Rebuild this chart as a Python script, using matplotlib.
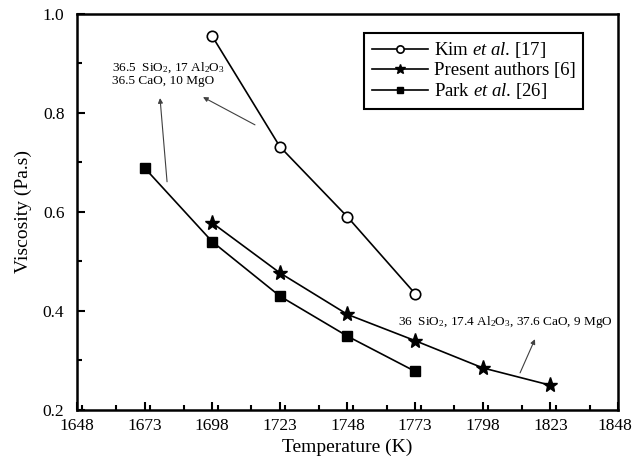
import matplotlib.pyplot as plt
import matplotlib.transforms as mtransforms
from matplotlib.ticker import MultipleLocator

plt.rcParams['font.family'] = 'Liberation Serif'
plt.rcParams['mathtext.fontset'] = 'custom'
plt.rcParams['mathtext.rm'] = 'Liberation Serif'
plt.rcParams['mathtext.it'] = 'Liberation Serif:italic'

# data
kim_T = [1698, 1723, 1748, 1773]
kim_visc = [0.955, 0.732, 0.59, 0.435]

present_T = [1698, 1723, 1748, 1773, 1798, 1823]
present_visc = [0.578, 0.477, 0.393, 0.34, 0.285, 0.25]

park_T = [1673, 1698, 1723, 1748, 1773]
park_visc = [0.689, 0.54, 0.43, 0.349, 0.278]

x_ticks = [1648, 1673, 1698, 1723, 1748, 1773, 1798, 1823, 1848]
y_ticks = [0.2, 0.4, 0.6, 0.8, 1.0]

fig = plt.figure(figsize=(6.33, 4.70), dpi=100)
ax = fig.add_axes([0.1216, 0.1277, 0.8547, 0.8426])

ax.plot(kim_T, kim_visc, '-o', color='black', lw=1.2, ms=7.5, mfc='white',
        mec='black', mew=1.2, label='Kim $et$ $al$. [17]')
ax.plot(present_T, present_visc, '-*', color='black', lw=1.2, ms=11,
        label='Present authors [6]')
ax.plot(park_T, park_visc, '-s', color='black', lw=1.2, ms=7,
        label='Park $et$ $al$. [26]')

ax.set_xlim(1648, 1848)
ax.set_ylim(0.2, 1.0)
ax.set_xticks(x_ticks)
ax.set_yticks(y_ticks)
ax.xaxis.set_minor_locator(MultipleLocator(12.5))
ax.yaxis.set_minor_locator(MultipleLocator(0.1))
ax.tick_params(which='both', direction='in', top=False, right=False,
               labelsize=12.5, width=1.5)
ax.tick_params(which='major', length=6)
ax.tick_params(which='minor', length=3.5)
ax.tick_params(axis='x', pad=6)
ax.tick_params(axis='y', pad=9)
for s in ax.spines.values():
    s.set_linewidth(1.8)

# nudge the last x label so it stays inside the figure
last = ax.get_xticklabels()[-1]
last.set_transform(last.get_transform() +
                   mtransforms.ScaledTranslation(-3 / 100, 0, fig.dpi_scale_trans))

ax.set_xlabel('Temperature (K)', fontsize=14, labelpad=3)
ax.set_ylabel('Viscosity (Pa.s)', fontsize=14, labelpad=8)

leg = ax.legend(loc='upper right', bbox_to_anchor=(0.935, 0.952), fontsize=13.5,
                fancybox=False, edgecolor='black', framealpha=1,
                handlelength=3.0, handletextpad=0.3, borderpad=0.4,
                labelspacing=0.1, borderaxespad=0, markerscale=0.7)
leg.get_frame().set_linewidth(1.5)

arrow = dict(arrowstyle='-|>', color='0.25', lw=0.8, mutation_scale=7,
             shrinkA=0, shrinkB=0)
ax.text(1661, 0.907, '36.5  SiO$_2$, 17 Al$_2$O$_3$\n36.5 CaO, 10 MgO',
        fontsize=9.5, va='top', ha='left', linespacing=1.1)
ax.annotate('', xy=(1694.6, 0.832), xytext=(1713.8, 0.776), arrowprops=arrow)
ax.annotate('', xy=(1678.7, 0.830), xytext=(1681.3, 0.661), arrowprops=arrow)

ax.text(1766.7, 0.378, '36  SiO$_2$, 17.4 Al$_2$O$_3$, 37.6 CaO, 9 MgO',
        fontsize=9.5, va='center', ha='left')
ax.annotate('', xy=(1817.3, 0.343), xytext=(1811.8, 0.275), arrowprops=arrow)

fig.savefig('out.png', dpi=100)
